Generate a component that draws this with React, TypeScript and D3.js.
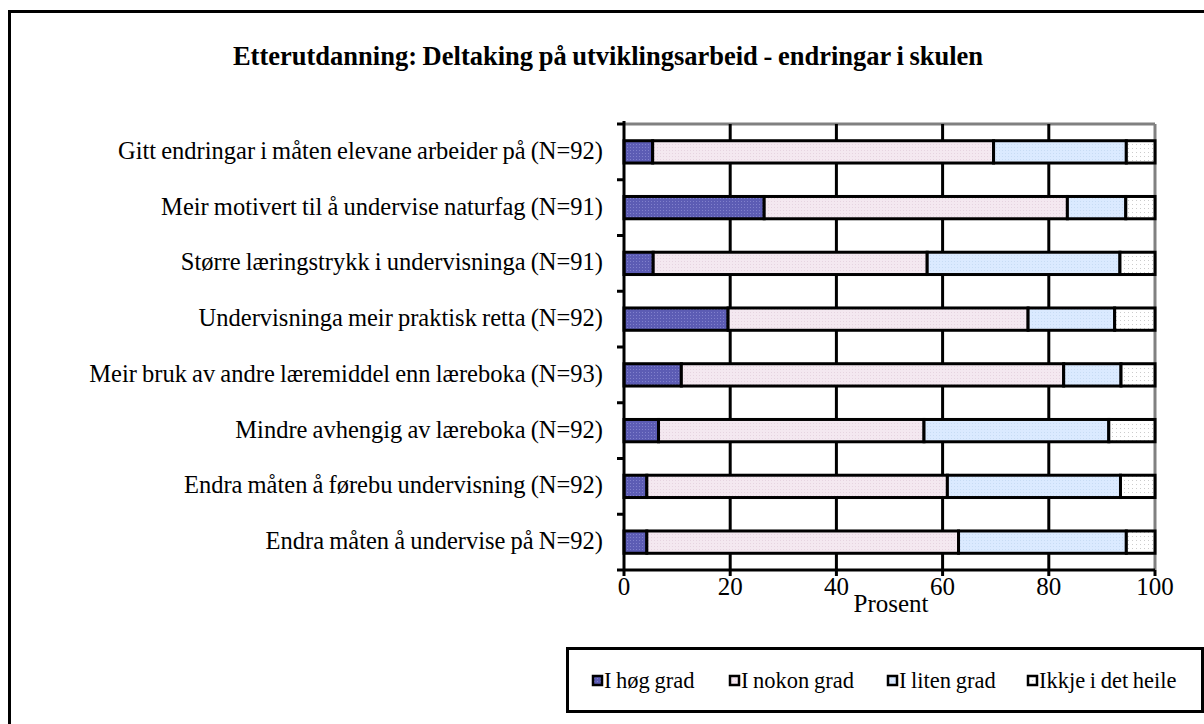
import React from "react";
import * as d3 from "d3";

const title = "Etterutdanning: Deltaking på utviklingsarbeid  - endringar i skulen";
const categories = [
  "Gitt endringar i måten elevane arbeider på (N=92)",
  "Meir motivert til å undervise naturfag (N=91)",
  "Større læringstrykk i undervisninga (N=91)",
  "Undervisninga meir praktisk retta (N=92)",
  "Meir bruk av andre læremiddel enn læreboka (N=93)",
  "Mindre avhengig av læreboka (N=92)",
  "Endra måten å førebu undervisning (N=92)",
  "Endra måten å undervise på N=92)",
];
const seriesNames = ["I høg grad", "I nokon grad", "I liten grad", "Ikkje i det heile"];
const hoegGrad = [5.4, 26.4, 5.5, 19.6, 10.8, 6.5, 4.3, 4.3];
const nokonGrad = [64.2, 57.1, 51.6, 56.5, 72.0, 50.0, 56.6, 58.7];
const litenGrad = [25.0, 11.0, 36.3, 16.3, 10.8, 34.8, 32.6, 31.6];
const ikkjeHeile = [5.4, 5.5, 6.6, 7.6, 6.4, 8.7, 6.5, 5.4];
const xTicks = [0, 20, 40, 60, 80, 100];
const xTitle = "Prosent";

const fills = ["url(#p0)", "url(#p1)", "url(#p2)", "url(#p3)"];

export default function App() {
  const left = 624, right = 1155, top = 124, bottom = 570;
  const x = d3.scaleLinear().domain([0, 100]).range([left, right]);
  const y = d3.scaleBand<string>().domain(categories).range([top, bottom]).paddingInner(0.6).paddingOuter(0.3);
  const yb = d3.scaleBand<string>().domain(categories).range([top, bottom]);
  const series = [hoegGrad, nokonGrad, litenGrad, ikkjeHeile];
  const rows = categories.map((c, i) => ({ c, v: series.map((s) => s[i]) }));
  const stack = d3.stack<any>().keys([0, 1, 2, 3] as any).value((d: any, k: any) => d.v[k])(rows as any);
  const font = "'Liberation Serif', 'Times New Roman', serif";
  const legendX = [597, 734, 892, 1032];
  return (
    <svg width={1204} height={724} style={{ position: "absolute", left: 0, top: 0, background: "#fff" }}>
      <defs>
        <pattern id="p0" width="3" height="3" patternUnits="userSpaceOnUse">
          <rect width="3" height="3" fill="#5c5cb4" />
          <rect width="1" height="1" fill="#8080cc" />
        </pattern>
        <pattern id="p1" width="3" height="3" patternUnits="userSpaceOnUse">
          <rect width="3" height="3" fill="#f4e8f0" />
          <rect width="1" height="1" fill="#e6d4e0" />
        </pattern>
        <pattern id="p2" width="3" height="3" patternUnits="userSpaceOnUse">
          <rect width="3" height="3" fill="#dbeaff" />
          <rect width="1" height="1" fill="#c8dcf4" />
        </pattern>
        <pattern id="p3" width="4" height="4" patternUnits="userSpaceOnUse">
          <rect width="4" height="4" fill="#ffffff" />
          <rect width="1" height="1" fill="#cccccc" />
        </pattern>
      </defs>
      <rect x={0} y={0} width={1204} height={724} fill="#fff" />
      <rect x={9.5} y={11.5} width={1220} height={740} fill="none" stroke="#000" strokeWidth={3} />
      <text x={608} y={65} textAnchor="middle" fontFamily={font} fontWeight="bold" fontSize={26.5} wordSpacing={-1}>{title}</text>

      {/* plot frame */}
      <line x1={left} x2={right} y1={top} y2={top} stroke="#808080" strokeWidth={3} />
      <line x1={right} x2={right} y1={top} y2={bottom} stroke="#808080" strokeWidth={3} />
      {xTicks.slice(1, -1).map((t) => (
        <line key={t} x1={x(t)} x2={x(t)} y1={top} y2={bottom} stroke="#000" strokeWidth={3} />
      ))}

      {/* bars */}
      {stack.map((s, si) =>
        s.map((d: any, i: number) => (
          <rect key={si + "-" + i} x={x(d[0])} y={y(categories[i])} width={x(d[1]) - x(d[0])} height={y.bandwidth()}
            fill={fills[si]} stroke="#000" strokeWidth={3} />
        ))
      )}

      {/* axes */}
      <line x1={left} x2={left} y1={top - 3} y2={bottom + 1} stroke="#000" strokeWidth={3} />
      {categories.map((c) => (
        <line key={c} x1={left - 7} x2={left} y1={yb(c)!} y2={yb(c)!} stroke="#000" strokeWidth={3} />
      ))}
      <line x1={left - 7} x2={left} y1={bottom} y2={bottom} stroke="#000" strokeWidth={3} />
      <line x1={left} x2={right} y1={bottom} y2={bottom} stroke="#000" strokeWidth={3} />
      {xTicks.map((t) => (
        <g key={t}>
          <line x1={x(t)} x2={x(t)} y1={bottom} y2={bottom + 6} stroke="#000" strokeWidth={3} />
          <text x={x(t)} y={595} textAnchor="middle" fontFamily={font} fontSize={25}>{t}</text>
        </g>
      ))}
      <text x={891} y={612} textAnchor="middle" fontFamily={font} fontSize={25}>{xTitle}</text>

      {categories.map((c) => (
        <text key={c} x={603} y={yb(c)! + yb.bandwidth() / 2 + 7} textAnchor="end" fontFamily={font} fontSize={24.5} wordSpacing={-1}>{c}</text>
      ))}

      {/* legend */}
      <rect x={567.5} y={648.5} width={635} height={63} fill="#fff" stroke="#000" strokeWidth={3} />
      {seriesNames.map((n, i) => (
        <g key={n}>
          <rect x={legendX[i] - 4} y={676} width={9} height={9} fill={fills[i]} stroke="#000" strokeWidth={2.5} />
          <text x={legendX[i] + 7} y={688} fontFamily={font} fontSize={22.5} wordSpacing={-1}>{n}</text>
        </g>
      ))}
    </svg>
  );
}
